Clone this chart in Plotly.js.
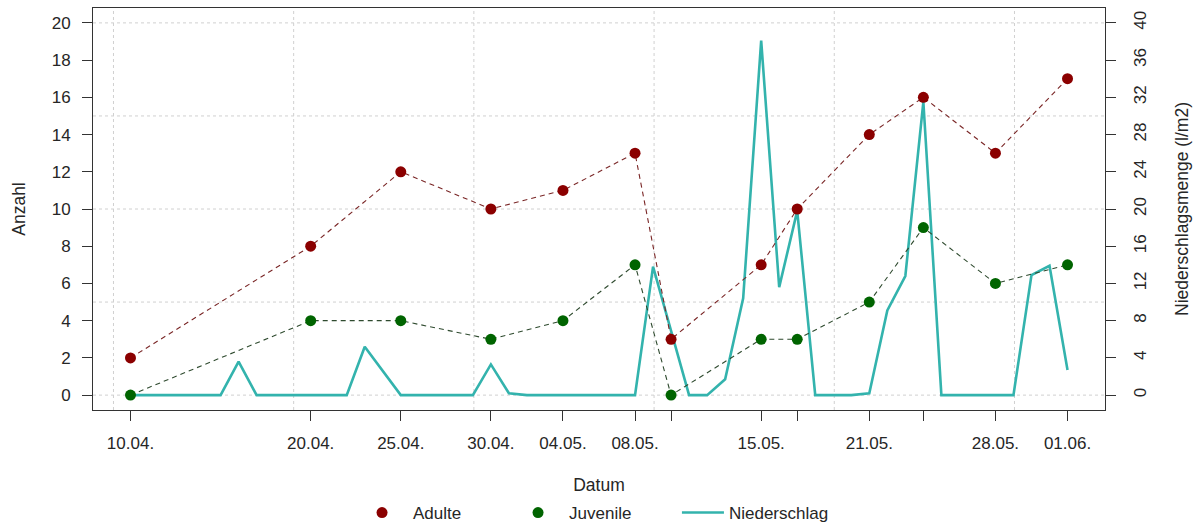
<!DOCTYPE html>
<html>
<head>
<meta charset="utf-8">
<script src="https://cdn.plot.ly/plotly-3.0.1.min.js"></script>
<style>
  html, body { margin: 0; padding: 0; background: #fff; }
  #chart { width: 1196px; height: 525px; }
</style>
</head>
<body>
<div id="chart"></div>
<script>
// ---- data ----
const sampleDates = ["2019-04-10","2019-04-20","2019-04-25","2019-04-30","2019-05-04","2019-05-08",
                     "2019-05-10","2019-05-15","2019-05-17","2019-05-21","2019-05-24","2019-05-28","2019-06-01"];
const sampleLabels = ["10.04.","20.04.","25.04.","30.04.","04.05.","08.05.",
                      "","15.05.","","21.05.","","28.05.","01.06."];
const adulte   = [2, 8, 12, 10, 11, 13, 3, 7, 10, 14, 16, 13, 17];
const juvenile = [0, 4, 4, 3, 4, 7, 0, 3, 3, 5, 9, 6, 7];

// daily precipitation (l/m2) from 10.04. to 01.06.
const rainStart = "2019-04-10";
const niederschlag = [
  0, 0, 0, 0, 0, 0, 3.6, 0, 0, 0,        // 10.04.-19.04.
  0, 0, 0, 5.2, 2.6, 0, 0, 0, 0, 0,      // 20.04.-29.04.
  3.3, 0.2, 0, 0, 0, 0, 0, 0, 0, 13.8,   // 30.04.-09.05.
  6.9, 0, 0, 1.7, 10.4, 38.1, 11.6, 19.8, 0, 0, // 10.05.-19.05.
  0, 0.2, 9.1, 12.8, 31.5, 0, 0, 0, 0, 0,     // 20.05.-29.05.
  12.9, 13.9, 2.7                              // 30.05.-01.06.
];
const countTicks = [0,2,4,6,8,10,12,14,16,18,20];
const rainTicks  = [0,4,8,12,16,20,24,28,32,36,40];
const countGrid  = [0,5,10,15,20];

// ---- helpers ----
const DAY = 86400000;
const toMs = s => { const p = s.split("-").map(Number); return Date.UTC(p[0], p[1]-1, p[2]); };
const rainDates = niederschlag.map((_, i) => toMs(rainStart) + i * DAY);
const first = toMs(sampleDates[0]), last = toMs(sampleDates[sampleDates.length-1]);
const pad = (last - first) * 0.04;
const xRange = [first - pad, last + pad];
const gridX = [0,1,2,3,4,5].map(k => first - 0.944 * DAY + k * 10 * DAY);

const font  = {family: "Liberation Sans, Arial, sans-serif", size: 17, color: "#262626"};
const tfont = {family: "Liberation Sans, Arial, sans-serif", size: 17.5, color: "#262626"};
const red = "#8B0000", green = "#006400", teal = "#33b3ad";
const gridStyle = {color: "#d0d0d0", width: 1, dash: "dot"};

const shapes = [];
gridX.forEach(v => shapes.push({type: "line", layer: "below", xref: "x", yref: "paper",
  x0: v, x1: v, y0: 0, y1: 1, line: gridStyle}));
countGrid.forEach(v => shapes.push({type: "line", layer: "below", xref: "paper", yref: "y2",
  x0: 0, x1: 1, y0: v, y1: v, line: gridStyle}));

const traces = [
  {x: rainDates, y: niederschlag, xaxis: "x", yaxis: "y", type: "scatter", mode: "lines",
   name: "Niederschlag", line: {color: teal, width: 2.6}, legend: "legend2"},
  {x: sampleDates, y: adulte, xaxis: "x", yaxis: "y2", type: "scatter", mode: "lines",
   line: {color: "#7a2626", width: 1.1, dash: "5px,4px"}, showlegend: false},
  {x: sampleDates, y: juvenile, xaxis: "x", yaxis: "y2", type: "scatter", mode: "lines",
   line: {color: "#2e4a2e", width: 1.1, dash: "5px,4px"}, showlegend: false},
  {x: sampleDates, y: adulte, xaxis: "x", yaxis: "y2", type: "scatter", mode: "markers",
   name: "Adulte", marker: {color: red, size: 11}},
  {x: sampleDates, y: juvenile, xaxis: "x", yaxis: "y2", type: "scatter", mode: "markers",
   name: "Juvenile", marker: {color: green, size: 11}}
];

const layout = {
  width: 1196, height: 525,
  margin: {l: 93, r: 91, t: 8, b: 115},
  paper_bgcolor: "#fff", plot_bgcolor: "#fff",
  font: font,
  showlegend: true,
  shapes: shapes,
  legend: {orientation: "h", xref: "container", yref: "container", x: 0.2935, xanchor: "left",
           y: 0.0229, yanchor: "middle", font: font, entrywidth: 89, itemwidth: 52,
           bgcolor: "rgba(0,0,0,0)"},
  legend2: {orientation: "h", xref: "container", yref: "container", x: 0.566, xanchor: "left",
           y: 0.0229, yanchor: "middle", font: font, itemwidth: 42,
           bgcolor: "rgba(0,0,0,0)"},
  xaxis: {type: "date", range: xRange, tickmode: "array", tickvals: sampleDates, ticktext: sampleLabels,
          ticks: "outside", ticklen: 10, tickcolor: "#333", tickwidth: 1, showgrid: false, zeroline: false,
          showline: true, mirror: true, linecolor: "#333", linewidth: 1, ticklabelstandoff: 8,
          tickfont: font, title: {text: "Datum", font: tfont, standoff: 35}},
  yaxis: {range: [-1.6, 41.6], side: "right", tickmode: "array", tickvals: rainTicks, tickangle: -90,
          ticks: "outside", ticklen: 10, tickcolor: "#333", showgrid: false, zeroline: false,
          showline: true, mirror: true, linecolor: "#333", ticklabelstandoff: 10, tickfont: font,
          title: {text: "Niederschlagsmenge (l/m2)", font: tfont, standoff: 26}},
  yaxis2: {range: [-0.8, 20.8], overlaying: "y", side: "left", anchor: "x", tickmode: "array",
           tickvals: countTicks, ticks: "outside", ticklen: 10, tickcolor: "#333", showgrid: false,
           zeroline: false, showline: false, ticklabelstandoff: 8, tickfont: font,
           title: {text: "Anzahl", font: tfont, standoff: 21}}
};

Plotly.newPlot("chart", traces, layout, {displayModeBar: false, staticPlot: true});
</script>
</body>
</html>
